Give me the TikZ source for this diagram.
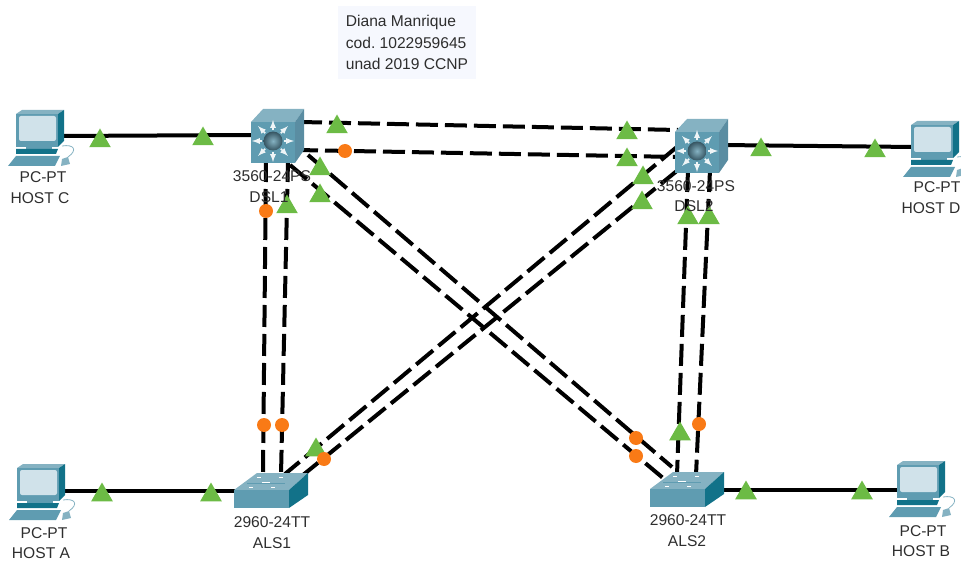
\documentclass[tikz,border=0pt]{standalone}
\usepackage{fontspec}
\setmainfont{Liberation Sans}
\usepackage{tikz}
\tikzset{>=latex}
\usetikzlibrary{shapes.geometric}
\definecolor{linkup}{HTML}{6CBB45}
\definecolor{linkwait}{HTML}{F97A16}
\definecolor{notebg}{HTML}{F6F8FE}
\definecolor{labelgrey}{HTML}{2E2E2E}
\definecolor{devlight}{HTML}{85B2C2}
\definecolor{devmid}{HTML}{5F9CB1}
\definecolor{devdark}{HTML}{127289}
\definecolor{devside}{HTML}{5A8DA2}
\definecolor{pcscreen}{HTML}{D0E2EA}
\tikzset{
    wire/.style={line width=4pt, black},
    trunk/.style={line width=4pt, black, dash pattern=on 22pt off 7pt},
    uplink/.style={regular polygon, regular polygon sides=3, fill=linkup, inner sep=0pt, minimum size=25pt, yshift=-3pt},
    waitlink/.style={circle, fill=linkwait, inner sep=0pt, minimum size=14pt},
    devlabel/.style={text=labelgrey, font=\fontsize{15.6}{18}\selectfont, inner sep=0pt},
    notebox/.style={fill=notebg, text=labelgrey, font=\fontsize{15.6}{21.5}\selectfont\frenchspacing, align=left, minimum width=138pt, minimum height=73pt, inner sep=0pt},
    devbox/.style={minimum width=#1, minimum height=40pt, inner sep=0pt},
    pcicon/.pic={
        \fill[devlight] (-24,-16) -- (-18,-20) -- (24,-20) -- (18,-16) -- cycle;
        \fill[devdark] (18,-16) -- (24,-20) -- (24,11) -- (18,17) -- cycle;
        \fill[devmid] (-24,-16) rectangle (18,17);
        \fill[pcscreen, rounded corners=2pt] (-21,-14) rectangle (16,11);
        \fill[devmid] (-14,17) rectangle (12,19);
        \fill[devdark] (-24,19) -- (18,19) -- (16,24) -- (-24,24) -- cycle;
        \fill[devmid] (-24,26) -- (20,26) -- (15,36) -- (-32,36) -- cycle;
        \fill[devlight] (22,29) -- (28,27) -- (30,34) -- (21,36) -- cycle;
        \draw[devlight, line width=0.8pt] (22,16) .. controls (34,14) and (38,20) .. (28,27);
    },
    mlsicon/.pic={
        \fill[devlight] (-23,-20) -- (-11,-33) -- (30,-33) -- (21,-20) -- cycle;
        \fill[devside] (21,-20) -- (30,-33) -- (30,8) -- (21,21) -- cycle;
        \fill[devmid] (-23,-20) rectangle (21,21);
        \begin{scope}[shift={(-1,-1)}]
            \foreach \a in {0,45,...,315} {
                \draw[->, white!90!devmid, line width=1.7pt] (\a:11) -- (\a:21);
            }
            \shade[inner color=devlight, outer color=devside!60!black] (0,0) circle (9.5);
        \end{scope}
    },
    alsicon/.pic={
        \fill[devlight] (-27,-9) -- (-4,-26) -- (47,-26) -- (28,-9) -- cycle;
        \fill[devdark] (28,-9) -- (47,-26) -- (47,-4) -- (28,9) -- cycle;
        \fill[devmid] (-27,-9) rectangle (28,9);
        \draw[white, line width=1pt] (-12,-12) -- (-8,-12);
        \draw[white, line width=1pt] (10,-12) -- (14,-12);
        \draw[white, line width=1pt] (-4,-22) -- (0,-22);
        \draw[white, line width=1pt] (18,-22) -- (22,-22);
        \draw[white, line width=1pt] (1,-17) -- (9,-17);
        \draw[devmid, line width=0.6pt] (-14,-16) -- (24,-16);
    },
}
\begin{document}
\begin{tikzpicture}[x=1pt, y=-1pt]
    \useasboundingbox (0,0) rectangle (961,561);
    % hosts and switches
    \node[devbox=47pt] (hostc) at (40,130) {};
    \node[devbox=47pt] (hostd) at (935,141) {};
    \node[devbox=47pt] (hosta) at (41,484) {};
    \node[devbox=47pt] (hostb) at (921,481) {};
    \node[devbox=48pt] (dsl1) at (274,142) {};
    \node[devbox=48pt] (dsl2) at (698,152) {};
    \node[devbox=55pt] (als1) at (261,499) {};
    \node[devbox=55pt] (als2) at (677,498) {};
    % port ends of the access links
    \coordinate (hostcport) at (60,136);
    \coordinate (dsl1port) at (255,135);
    \coordinate (dsl2port) at (720,145);
    \coordinate (hostdport) at (915,147);
    \coordinate (hostaport) at (62,491);
    \coordinate (als1port) at (238,491);
    \coordinate (als2port) at (715,490);
    \coordinate (hostbport) at (900,490);
    % port ends of the trunks
    \coordinate (dsl1a) at (300,122);
    \coordinate (dsl1b) at (296,150);
    \coordinate (dsl1c) at (308,155);
    \coordinate (dsl1d) at (290,165);
    \coordinate (dsl1e) at (266,160);
    \coordinate (dsl1f) at (288,160);
    \coordinate (dsl2a) at (678,130);
    \coordinate (dsl2b) at (678,157);
    \coordinate (dsl2c) at (678,146);
    \coordinate (dsl2d) at (678,170);
    \coordinate (dsl2e) at (688,170);
    \coordinate (dsl2f) at (710,170);
    \coordinate (als1a) at (263,475);
    \coordinate (als1b) at (281,475);
    \coordinate (als1c) at (285,474);
    \coordinate (als1d) at (303,475);
    \coordinate (als2a) at (677,475);
    \coordinate (als2b) at (696,475);
    \coordinate (als2c) at (672,467);
    \coordinate (als2d) at (663,478);
    % access links
    \draw[wire] (hostcport) -- (dsl1port);
    \draw[wire] (dsl2port) -- (hostdport);
    \draw[wire] (hostaport) -- (als1port);
    \draw[wire] (als2port) -- (hostbport);
    % trunks
    \draw[trunk] (dsl1a) -- (dsl2a);
    \draw[trunk] (dsl1b) -- (dsl2b);
    \draw[trunk] (dsl1c) -- (als2c);
    \draw[trunk] (dsl1d) -- (als2d);
    \draw[trunk] (dsl2c) -- (als1c);
    \draw[trunk] (dsl2d) -- (als1d);
    \draw[trunk] (dsl1e) -- (als1a);
    \draw[trunk] (dsl1f) -- (als1b);
    \draw[trunk] (dsl2e) -- (als2a);
    \draw[trunk] (dsl2f) -- (als2b);
    % icons
    \pic at (hostc) {pcicon};
    \pic at (hostd) {pcicon};
    \pic at (hosta) {pcicon};
    \pic at (hostb) {pcicon};
    \pic at (dsl1) {mlsicon};
    \pic at (dsl2) {mlsicon};
    \pic at (als1) {alsicon};
    \pic at (als2) {alsicon};
    % link lights
    \node[uplink] (up1) at (100,138) {};
    \node[uplink] (up2) at (203,136) {};
    \node[uplink] (up3) at (761,147) {};
    \node[uplink] (up4) at (875,148) {};
    \node[uplink] (up5) at (102,492) {};
    \node[uplink] (up6) at (211,492) {};
    \node[uplink] (up7) at (746,490) {};
    \node[uplink] (up8) at (862,490) {};
    \node[uplink] (up9) at (337,124) {};
    \node[uplink] (up10) at (627,130) {};
    \node[uplink] (up11) at (627,157) {};
    \node[uplink] (up12) at (320,166) {};
    \node[uplink] (up13) at (320,193) {};
    \node[uplink] (up14) at (643,175) {};
    \node[uplink] (up15) at (642,200) {};
    \node[uplink] (up16) at (316,447) {};
    \node[uplink] (up17) at (287,204) {};
    \node[uplink] (up18) at (688,215) {};
    \node[uplink] (up19) at (709,215) {};
    \node[uplink] (up20) at (680,431) {};
    \node[waitlink] (wait1) at (345,151) {};
    \node[waitlink] (wait2) at (266,211) {};
    \node[waitlink] (wait3) at (264,425) {};
    \node[waitlink] (wait4) at (282,425) {};
    \node[waitlink] (wait5) at (324,459) {};
    \node[waitlink] (wait6) at (636,438) {};
    \node[waitlink] (wait7) at (636,456) {};
    \node[waitlink] (wait8) at (699,424) {};
    % labels
    \node[notebox] (note) at (407,42.5) {Diana Manrique\\cod. 1022959645\\unad 2019 CCNP};
    \node[devlabel] (hostcmodel) at (43,177) {PC-PT};
    \node[devlabel] (hostcname) at (40,198) {HOST C};
    \node[devlabel] (hostdmodel) at (937,187) {PC-PT};
    \node[devlabel] (hostdname) at (931,208) {HOST D};
    \node[devlabel] (hostamodel) at (44,533) {PC-PT};
    \node[devlabel] (hostaname) at (41,553) {HOST A};
    \node[devlabel] (hostbmodel) at (923,531) {PC-PT};
    \node[devlabel] (hostbname) at (921,551) {HOST B};
    \node[devlabel] (dsl1model) at (272,176) {3560-24PS};
    \node[devlabel] (dsl1name) at (269,197) {DSL1};
    \node[devlabel] (dsl2model) at (696,186) {3560-24PS};
    \node[devlabel] (dsl2name) at (694,206) {DSL2};
    \node[devlabel] (als1model) at (272,522) {2960-24TT};
    \node[devlabel] (als1name) at (272,543) {ALS1};
    \node[devlabel] (als2model) at (688,520) {2960-24TT};
    \node[devlabel] (als2name) at (687,541) {ALS2};
\end{tikzpicture}
\end{document}
